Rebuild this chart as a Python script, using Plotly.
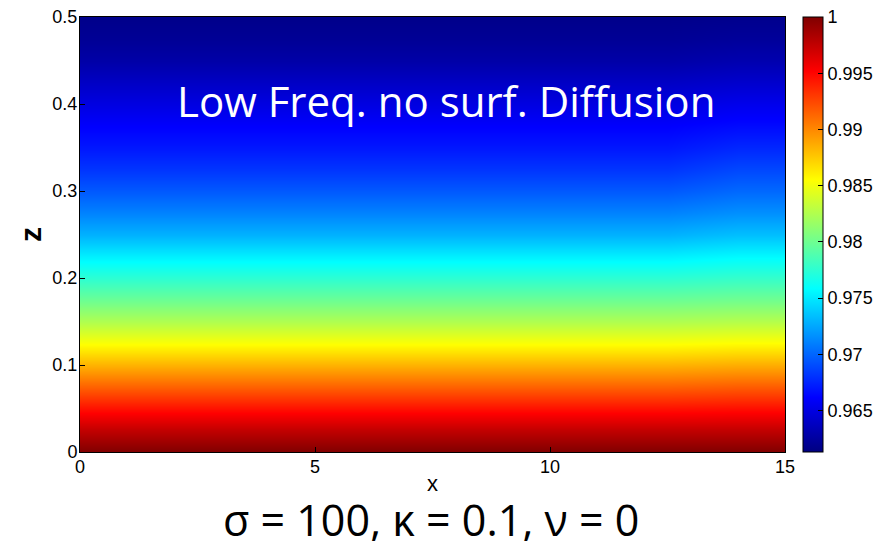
import plotly.graph_objects as go

# Vertical profile of the normalised field (height z -> value)
z_levels = [0.0, 0.025, 0.05, 0.075, 0.1, 0.125, 0.15, 0.175, 0.2, 0.225, 0.25,
            0.275, 0.3, 0.325, 0.35, 0.375, 0.4, 0.425, 0.45, 0.475, 0.5]
profile_interior = [1.0000, 0.9975, 0.9946, 0.9915, 0.9884, 0.9853, 0.9825, 0.9799,
                    0.9775, 0.9752, 0.9729, 0.9711, 0.9695, 0.9681, 0.9670, 0.9661,
                    0.9650, 0.9639, 0.9628, 0.9621, 0.9617]
# Profile close to the right boundary (slightly weaker gradient aloft)
profile_edge = [1.0000, 0.9975, 0.9947, 0.9917, 0.9886, 0.9855, 0.9827, 0.9801,
                0.9778, 0.9756, 0.9734, 0.9716, 0.9701, 0.9688, 0.9676, 0.9665,
                0.9654, 0.9642, 0.9631, 0.9623, 0.9618]
x_cols = [0.0, 7.5, 12.5, 14.0, 15.0]
col_profiles = [profile_interior, profile_interior, profile_interior,
                profile_edge, profile_edge]

cbar_ticks = [0.965, 0.97, 0.975, 0.98, 0.985, 0.99, 0.995, 1.0]
cbar_labels = ["0.965", "0.97", "0.975", "0.98", "0.985", "0.99", "0.995", "1"]
x_ticks = [0, 5, 10, 15]
z_ticks = [0, 0.1, 0.2, 0.3, 0.4, 0.5]
z_tick_labels = ["0", "0.1", "0.2", "0.3", "0.4", "0.5"]

field = [[col_profiles[j][i] for j in range(len(x_cols))] for i in range(len(z_levels))]

jet = [[0.0, "rgb(0,0,128)"], [0.125, "rgb(0,0,255)"], [0.375, "rgb(0,255,255)"],
       [0.625, "rgb(255,255,0)"], [0.875, "rgb(255,0,0)"], [1.0, "rgb(128,0,0)"]]

SANS = "Liberation Sans, Arial, sans-serif"
axis_font = dict(family=SANS, size=18, color="black")

fig = go.Figure(go.Heatmap(
    x=x_cols, y=z_levels, z=field,
    zmin=0.9613, zmax=1.0, zsmooth="best",
    colorscale=jet,
    colorbar=dict(
        x=1.0255, xanchor="left", y=0.5, yanchor="middle",
        len=1.0, lenmode="fraction", thickness=20,
        outlinecolor="black", outlinewidth=1,
        tickvals=cbar_ticks, ticktext=cbar_labels,
        ticks="inside", ticklen=5, tickcolor="black",
        tickfont=axis_font, xpad=0, ypad=0,
    ),
))

fig.update_layout(
    width=886, height=541,
    margin=dict(l=80, r=101, t=17, b=89, autoexpand=False),
    paper_bgcolor="white", plot_bgcolor="white",
    xaxis=dict(range=[0, 15], tickvals=x_ticks, ticks="inside", ticklen=5,
               tickcolor="black", showline=True, linecolor="black", mirror=True,
               showgrid=False, zeroline=False, tickfont=axis_font,
               ticklabelstandoff=-2,
               title=dict(text="x", font=dict(family=SANS, size=22, color="black"),
                          standoff=0)),
    yaxis=dict(range=[0, 0.5], tickvals=z_ticks, ticktext=z_tick_labels,
               ticks="inside", ticklen=5, tickcolor="black", showline=True,
               linecolor="black", mirror=True, showgrid=False, zeroline=False,
               tickfont=axis_font, ticklabelstandoff=-2,
               title=dict(text="<b>z</b>", font=dict(family=SANS, size=30, color="black"),
                          standoff=1)),
    annotations=[
        dict(text="Low Freq. no surf. Diffusion", xref="paper", yref="paper",
             x=0.519, y=0.808, xanchor="center", yanchor="middle", showarrow=False,
             font=dict(family="Open Sans, sans-serif", size=42, color="white")),
        dict(text="σ = 100, κ = 0.1, ν = 0", xref="paper", yref="paper",
             x=0.4976, y=-0.155, xanchor="center", yanchor="middle", showarrow=False,
             font=dict(family="Open Sans, sans-serif", size=43, color="black")),
    ],
)

fig.write_html("out.html")
